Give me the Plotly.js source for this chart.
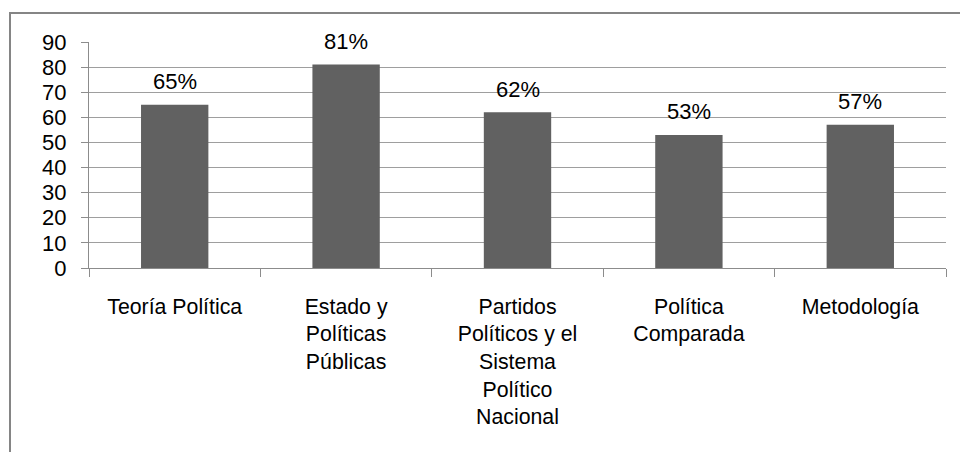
<!DOCTYPE html>
<html>
<head>
<meta charset="utf-8">
<script src="https://cdn.plot.ly/plotly-3.0.1.min.js"></script>
<style>
  html, body { margin: 0; padding: 0; background: #fff; }
  #wrap { position: relative; width: 960px; height: 452px; overflow: hidden; }
  #chart { position: absolute; left: 0; top: 0; width: 960px; height: 452px; }
  #frame { position: absolute; left: 9px; top: 12px; width: 1000px; height: 500px;
           border-left: 2px solid #858585; border-top: 2px solid #858585; pointer-events: none; }
</style>
</head>
<body>
<div id="wrap">
  <div id="chart"></div>
  <div id="frame"></div>
</div>
<script>
const categories = [
  "Teoría Política",
  "Estado y<br>Políticas<br>Públicas",
  "Partidos<br>Políticos y el<br>Sistema<br>Político<br>Nacional",
  "Política<br>Comparada",
  "Metodología"
];
const values = [65, 81, 62, 53, 57];
const labels = ["65%", "81%", "62%", "53%", "57%"];
const yTicks = [0, 10, 20, 30, 40, 50, 60, 70, 80, 90];

const FONT = "Liberation Sans, Arial, sans-serif";
const FS = 22;
const FSX = 21.3;

const trace = {
  type: "bar",
  x: categories,
  y: values,
  marker: { color: "#616161", line: { width: 0 } },
  hoverinfo: "none"
};

const annotations = categories.map((c, i) => ({
  x: c, y: values[i], xref: "x", yref: "y",
  text: labels[i], showarrow: false,
  yanchor: "middle", yshift: 23,
  font: { family: FONT, size: FS, color: "#000" }
}));

const layout = {
  width: 960, height: 452,
  margin: { l: 89, r: 14, t: 42, b: 184, pad: 0 },
  paper_bgcolor: "#fff", plot_bgcolor: "#fff",
  bargap: 0.607,
  showlegend: false,
  font: { family: FONT, size: FS, color: "#000" },
  xaxis: {
    type: "category",
    tickson: "boundaries",
    ticks: "outside", ticklen: 8, tickwidth: 1, tickcolor: "#8c8c8c",
    showline: true, linecolor: "#8c8c8c", linewidth: 1,
    showgrid: false, zeroline: false,
    tickfont: { family: FONT, size: FSX, color: "#000" },
    ticklabelstandoff: 19,
    fixedrange: true
  },
  yaxis: {
    range: [0, 90],
    tickvals: yTicks,
    ticktext: yTicks.map(String),
    ticks: "outside", ticklen: 7, tickwidth: 1, tickcolor: "#8c8c8c",
    showline: true, linecolor: "#8c8c8c", linewidth: 1,
    showgrid: true, gridcolor: "#9e9e9e", gridwidth: 1,
    zeroline: false,
    tickfont: { family: FONT, size: FS, color: "#000" },
    ticklabelstandoff: 10,
    fixedrange: true
  },
  annotations: annotations
};

Plotly.newPlot("chart", [trace], layout, { staticPlot: true, displayModeBar: false });
</script>
</body>
</html>
